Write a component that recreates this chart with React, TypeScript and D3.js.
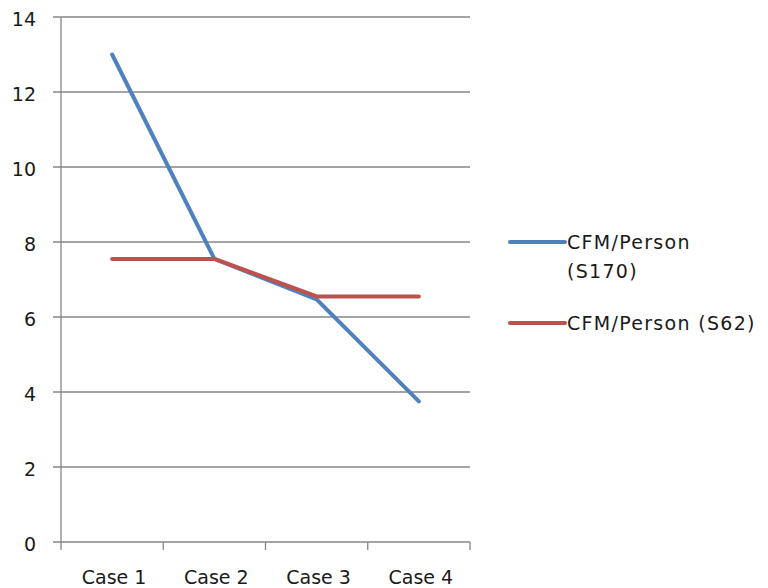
import React from "react";
import * as d3 from "d3";

const categories = ["Case 1", "Case 2", "Case 3", "Case 4"];
const s170 = [13, 7.55, 6.47, 3.75];
const s62 = [7.55, 7.55, 6.55, 6.55];
const yTicks = [0, 2, 4, 6, 8, 10, 12, 14];
const seriesNames = ["CFM/Person (S170)", "CFM/Person (S62)"];
const colors = ["#4F81BD", "#C0504D"];

export default function App() {
  const W = 768, H = 588;
  const left = 61, right = 470, top = 17, bottom = 542;
  const x = d3.scaleBand<string>().domain(categories).range([left, right]);
  const y = d3.scaleLinear().domain([0, 14]).range([bottom, top]);
  const line = d3
    .line<number>()
    .x((_, i) => (x(categories[i]) as number) + x.bandwidth() / 2)
    .y((d) => y(d));
  const font = "'DejaVu Sans', sans-serif";
  const fs = 19;
  const lfs = 19;
  const lls = 1.3;
  const textColor = "#1a1a1a";
  const boundaries = categories.map((c) => x(c) as number).concat([right]);
  return (
    <svg width={W} height={H} style={{ position: "absolute", left: 0, top: 0, background: "#fff" }}>
      {yTicks.map((t) => (
        <g key={t}>
          <line x1={53} x2={right} y1={y(t)} y2={y(t)} stroke="#868686" strokeWidth={1.3} />
          <text x={36} y={y(t) + 9} textAnchor="end" fontFamily={font} fontSize={fs} fill={textColor}>
            {t}
          </text>
        </g>
      ))}
      <line x1={left} x2={left} y1={top} y2={bottom} stroke="#868686" strokeWidth={1.3} />
      {boundaries.map((b, i) => (
        <line key={i} x1={b} x2={b} y1={bottom} y2={bottom + 8} stroke="#868686" strokeWidth={1.3} />
      ))}
      {categories.map((c) => (
        <text key={c} x={(x(c) as number) + x.bandwidth() / 2 + 2} y={584} textAnchor="middle" fontFamily={font} fontSize={fs} fill={textColor}>
          {c}
        </text>
      ))}
      <path d={line(s170) || ""} fill="none" stroke={colors[0]} strokeWidth={4} strokeLinecap="round" strokeLinejoin="round" />
      <path d={line(s62) || ""} fill="none" stroke={colors[1]} strokeWidth={4} strokeLinecap="round" strokeLinejoin="round" />
      <line x1={510} x2={565} y1={242} y2={242} stroke={colors[0]} strokeWidth={4} strokeLinecap="round" />
      <text x={567} y={249} fontFamily={font} fontSize={lfs} letterSpacing={lls} fill={textColor}>CFM/Person</text>
      <text x={567} y={278} fontFamily={font} fontSize={lfs} letterSpacing={lls} fill={textColor}>(S170)</text>
      <line x1={510} x2={565} y1={323} y2={323} stroke={colors[1]} strokeWidth={4} strokeLinecap="round" />
      <text x={567} y={330} fontFamily={font} fontSize={lfs} letterSpacing={lls} fill={textColor}>{seriesNames[1]}</text>
    </svg>
  );
}
